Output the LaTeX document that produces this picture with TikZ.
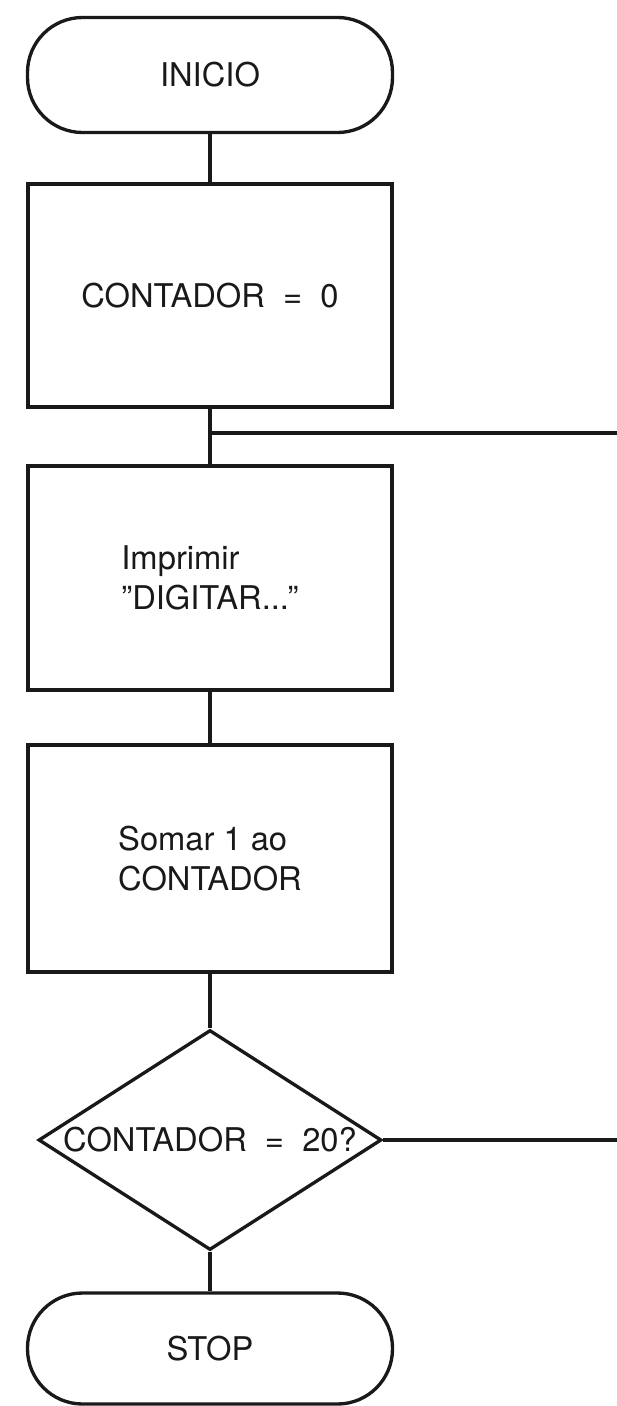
\documentclass[tikz,border=0pt]{standalone}
\usepackage{fontspec}
\setmainfont{TeX Gyre Heros}
\usepackage{tikz}
\usetikzlibrary{shapes.geometric, positioning}

\begin{document}
\begin{tikzpicture}[
  every node/.style = {font=\fontsize{18.6}{22.5}\selectfont, text=black!90},
  term/.style  = {rectangle, rounded corners=1.1cm, draw=black!90, line width=1.9pt,
                  minimum width=7.3cm, minimum height=2.3cm, align=center},
  proc/.style  = {rectangle, draw=black!90, line width=1.9pt,
                  minimum width=7.28cm, minimum height=4.5cm, align=left},
  test/.style  = {diamond, draw=black!90, line width=1.9pt, aspect=1.55, inner sep=0pt,
                  minimum width=6.86cm, minimum height=4.4cm, align=center},
  conn/.style  = {draw=black!90, line width=1.9pt}
]
\useasboundingbox (0,0) rectangle (12.32,-28.12);

%% ── MAIN COLUMN ────────────────────────────────────────────────
\node[term]  at (4.2, -1.5)   (inicio)  {INICIO};
\node[proc, minimum height=4.46cm] at (4.2, -5.91)  (zerar)   {CONTADOR~~=~~0};
\node[proc, minimum height=4.48cm] at (4.2, -11.56) (imprime) {Imprimir\\''DIGITAR...''};
\node[proc, minimum height=4.54cm] at (4.2, -17.17) (soma)    {Somar 1 ao\\CONTADOR};
\node[test]  at (4.2, -22.8)  (teste)   {CONTADOR~~=~~20?};
\node[term, minimum height=2.22cm] at (4.2, -26.97) (stop) {STOP};

%% ── LOOP POINTS ────────────────────────────────────────────────
\coordinate (junta)  at (4.2, -8.66);
\coordinate (voltat) at (12.4, -8.66);
\coordinate (voltab) at (12.4, -22.8);

%% ── CONNECTORS ─────────────────────────────────────────────────
\draw[conn] (inicio)  -- (zerar);
\draw[conn] (zerar)   -- (imprime);
\draw[conn] (imprime) -- (soma);
\draw[conn] (soma)    -- (teste);
\draw[conn] (teste)   -- (stop);
\draw[conn] (junta)   -- (voltat);
\draw[conn] (teste.east) -- (voltab);

\end{tikzpicture}
\end{document}
